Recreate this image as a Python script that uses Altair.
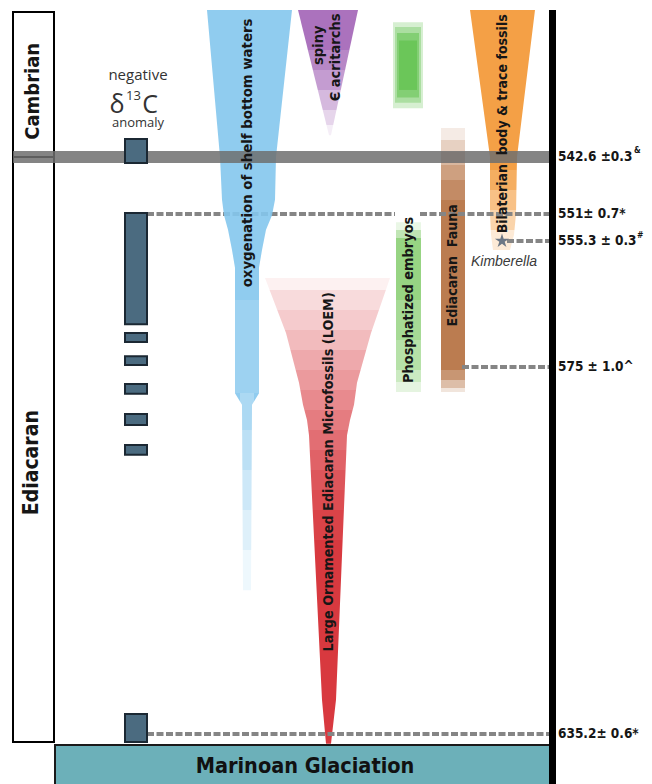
import altair as alt
import pandas as pd

# ---------------- time axis (Ma) -> depth down the column ----------------
Y_DOMAIN = [520.6, 542.6, 551.0, 555.3, 575.0, 635.2, 643.4]
Y_RANGE = [0, 149, 206, 233, 359, 726, 776]

# dated horizons on the right
dated_ma = [542.6, 551.0, 555.3, 575.0, 635.2]
dated_label = ["542.6 ±0.3", "551± 0.7*", "555.3 ± 0.3", "575 ± 1.0^", "635.2± 0.6*"]
sup_label = ["&", "#"]
sup_ma = [541.6, 554.4]
sup_x = [634, 637]

# dashed tie lines
tie_ma = [551.0, 551.0, 555.3, 575.0, 635.2]
tie_x0 = [147, 420, 507, 462, 147]
tie_x1 = [395, 549, 549, 549, 549]

# periods
period_name = ["Cambrian", "Ediacaran"]
period_top = [521.2, 542.6]
period_base = [542.6, 636.5]

# negative d13C anomalies
d13_top = [539.95, 550.85, 569.7, 573.3, 577.8, 582.7, 587.8, 631.9]
d13_base = [543.5, 568.3, 571.1, 574.7, 579.4, 584.5, 589.4, 636.5]

# ranges (Ma, left column edge, right column edge)
oxy_ma = [520.9, 542.6, 548.9, 551.2, 553.5, 556.7, 559.5, 579.3, 581.2, 611.6]
oxy_l = [207, 220, 222, 224, 228, 232, 235, 235, 242, 243]
oxy_r = [292, 276, 275, 272, 266, 262, 259, 259, 252, 251]

acr_ma = [520.9, 539.4]
acr_l = [298, 329]
acr_r = [358, 331]

loem_ma = [561.1, 569.7, 577.6, 581.2, 583.7, 586.2, 629.6, 636.8]
loem_l = [265, 286, 299, 303, 307, 309, 322, 326]
loem_r = [390, 371, 357, 354, 350, 347, 336, 331]

bil_ma = [520.9, 542.6, 551.0, 554.3, 556.7]
bil_l = [470, 490, 490, 491, 493]
bil_r = [535, 517, 516, 514, 510]

bar_x0 = [396, 441]
bar_x1 = [421, 465]
bar_top = [552.3, 538.3]
bar_base = [579.1, 579.1]
bar_color = ["#97d483", "#bb7c50"]

blob_x0 = [393, 395, 397, 399]
blob_x1 = [423, 421, 419, 417]
blob_top = [522.7, 523.4, 524.3, 525.4]
blob_base = [535.4, 534.6, 533.8, 532.7]
blob_op = [0.25, 0.35, 0.5, 0.6]

# decorative white veils that fade the ranges (x0, x1, depth0, depth1, opacity)
veil_x0 = [262] * 13 + [296] * 5 + [486] * 4 + [439] * 8 + [394] * 6
veil_x1 = [393] * 13 + [360] * 5 + [520] * 4 + [467] * 8 + [423] * 6
veil_p0 = [270, 282, 302, 322, 342, 362, 382, 402, 422, 442, 462, 482, 502,
           42, 62, 82, 102, 117,
           162, 182, 202, 222,
           120, 132, 144, 157, 172, 362, 372, 380,
           214, 222, 292, 332, 362, 374]
veil_p1 = [282, 302, 322, 342, 362, 382, 402, 422, 442, 462, 482, 502, 532,
           62, 82, 102, 117, 132,
           182, 202, 222, 244,
           132, 144, 157, 172, 192, 372, 380, 384,
           222, 230, 332, 362, 374, 384]
veil_op = [0.93, 0.82, 0.74, 0.66, 0.57, 0.49, 0.41, 0.34, 0.27, 0.21, 0.15, 0.10, 0.05,
           0.15, 0.3, 0.5, 0.7, 0.88,
           0.15, 0.35, 0.55, 0.78,
           0.85, 0.65, 0.45, 0.28, 0.12, 0.2, 0.5, 0.8,
           0.8, 0.4, 0.15, 0.3, 0.5, 0.75]

oxy_veil_x0 = [233, 240, 240, 240, 240, 240]
oxy_veil_x1 = [261, 254, 254, 254, 254, 254]
oxy_veil_p0 = [292, 385, 422, 462, 502, 542]
oxy_veil_p1 = [385, 422, 462, 502, 542, 585]
oxy_veil_op = [0.12, 0.25, 0.4, 0.55, 0.7, 0.85]

# rotated labels
rot_text = ["oxygenation of shelf bottom waters", "spiny", "Є acritarchs",
            "Phosphatized embryos", "Large Ornamented Ediacaran Microfossils (LOEM)",
            "Ediacaran\u00a0 Fauna", "Bilaterian\u00a0 body & trace fossils",
            "Cambrian", "Ediacaran"]
rot_x = [248, 319, 336, 409, 329, 453, 503, 33, 32]
rot_ma = [542.0, 526.1, 527.9, 564.5, 592.2, 559.1, 537.7, 532.9, 590.7]
rot_size = [14.8, 14.5, 14.5, 14.4, 14.3, 14.1, 14, 20, 21]

star_x = [502]
star_ma = [555.3]
STAR = ("M0,-1L0.2233,-0.3074L0.9511,-0.309L0.3614,0.1174L0.5878,0.809L0,0.38"
        "L-0.5878,0.809L-0.3614,0.1174L-0.9511,-0.309L-0.2233,-0.3074Z")

FONT = "Liberation Sans Narrow, Arial Narrow, DejaVu Sans Condensed, sans-serif"
XS = alt.Scale(domain=[8, 644], nice=False, zero=False)
YS = alt.Scale(domain=[0, 776], reverse=True, nice=False, zero=False)


def age_expr(f):
    d, r = Y_DOMAIN, Y_RANGE
    segs = []
    for i in range(len(d) - 1):
        k = (r[i + 1] - r[i]) / (d[i + 1] - d[i])
        segs.append((d[i + 1], f"({r[i]} + (datum['{f}'] - {d[i]}) * {k:.6f})"))
    e = segs[-1][1]
    for bound, s in reversed(segs[:-1]):
        e = f"(datum['{f}'] <= {bound} ? {s} : {e})"
    return e


def aged(chart, *fields):
    return chart.transform_calculate(**{"p_" + f: age_expr(f) for f in fields})


def X(f):
    return alt.X(f, type="quantitative", scale=XS, axis=None)


def Y(f):
    return alt.Y(f, type="quantitative", scale=YS, axis=None)


def shape(ma, l, r, color, opacity=1.0):
    df = pd.DataFrame({"ma": ma, "l": l, "r": r})
    return aged(alt.Chart(df).mark_area(orient="horizontal", fill=color, opacity=opacity).encode(
        y=Y("p_ma"), x=X("l"), x2=alt.X2("r")), "ma")


def boxes(df, **kw):
    return aged(alt.Chart(df).mark_rect(**kw).encode(
        x=X("x0"), x2=alt.X2("x1"), y=Y("p_top"), y2=alt.Y2("p_base")), "top", "base")


def texts(df, **kw):
    enc = dict(x=X("x"), y=Y("p_ma"), text="t:N")
    if "s" in df.columns:
        enc["size"] = alt.Size("s:Q", scale=None, legend=None)
    return aged(alt.Chart(df).mark_text(**kw).encode(**enc), "ma")


periods = pd.DataFrame({"name": period_name, "top": period_top, "base": period_base,
                        "x0": [13, 13], "x1": [54, 54]})
period_boxes = boxes(periods, fill="white", stroke="black", strokeWidth=2)

mar_box = boxes(pd.DataFrame({"x0": [55], "x1": [551], "top": [637.0], "base": [646.0]}),
                fill="#6cb0b9", stroke="#1a1a1a", strokeWidth=2)
mar_text = texts(pd.DataFrame({"x": [305], "ma": [640.6], "t": ["Marinoan Glaciation"]}),
                 font=FONT, fontSize=21.5, fontWeight="bold", fill="#111111", baseline="middle", align="center")

ties = aged(alt.Chart(pd.DataFrame({"ma": tie_ma, "x0": tie_x0, "x1": tie_x1})).mark_rule(
    stroke="#858585", strokeWidth=4, strokeDash=[7, 2.5]).encode(
    x=X("x0"), x2=alt.X2("x1"), y=Y("p_ma")), "ma")

oxy = shape(oxy_ma, oxy_l, oxy_r, "#84c7ed", opacity=0.9)
acr = shape(acr_ma, acr_l, acr_r, "#ab72bd")
loem = shape(loem_ma, loem_l, loem_r, "#d8393f")
bil = shape(bil_ma, bil_l, bil_r, "#f4a046")

bars = aged(alt.Chart(pd.DataFrame({"x0": bar_x0, "x1": bar_x1, "top": bar_top, "base": bar_base,
                                    "c": bar_color})).mark_rect().encode(
    x=X("x0"), x2=alt.X2("x1"), y=Y("p_top"), y2=alt.Y2("p_base"), fill=alt.Fill("c:N", scale=None)),
    "top", "base")

blob = aged(alt.Chart(pd.DataFrame({"x0": blob_x0, "x1": blob_x1, "top": blob_top, "base": blob_base,
                                    "op": blob_op})).mark_rect(fill="#5cbf48").encode(
    x=X("x0"), x2=alt.X2("x1"), y=Y("p_top"), y2=alt.Y2("p_base"),
    opacity=alt.Opacity("op:Q", scale=None)), "top", "base")


def veils(x0, x1, p0, p1, op):
    return alt.Chart(pd.DataFrame({"x0": x0, "x1": x1, "p0": p0, "p1": p1, "op": op})).mark_rect(
        fill="white").encode(x=X("x0"), x2=alt.X2("x1"), y=Y("p0"), y2=alt.Y2("p1"),
                             opacity=alt.Opacity("op:Q", scale=None))


fades = veils(veil_x0, veil_x1, veil_p0, veil_p1, veil_op)
oxy_fades = veils(oxy_veil_x0, oxy_veil_x1, oxy_veil_p0, oxy_veil_p1, oxy_veil_op)

gray_bar = aged(alt.Chart(pd.DataFrame({"ma": [542.6], "x0": [13], "x1": [549]})).mark_rule(
    stroke="#6e6e6e", strokeWidth=12, opacity=0.85).encode(x=X("x0"), x2=alt.X2("x1"), y=Y("p_ma")), "ma")

d13 = boxes(pd.DataFrame({"top": d13_top, "base": d13_base, "x0": 125, "x1": 147}),
            fill="#4b6b80", stroke="#1b2833", strokeWidth=2)

black_bar = aged(alt.Chart(pd.DataFrame({"x": [552.5], "top": [520.9], "base": [646.0]})).mark_rule(
    stroke="black", strokeWidth=7).encode(x=X("x"), y=Y("p_top"), y2=alt.Y2("p_base")), "top", "base")

star = aged(alt.Chart(pd.DataFrame({"x": star_x, "ma": star_ma})).mark_point(
    shape=STAR, filled=True, size=220, fill="#6c7785", strokeWidth=0, opacity=1).encode(
    x=X("x"), y=Y("p_ma")), "ma")

kim = texts(pd.DataFrame({"x": [504], "ma": [558.6], "t": ["Kimberella"]}),
            font="Liberation Sans, Arial, sans-serif", fontStyle="italic", fontSize=14, fill="#3a3a3a")

rot = texts(pd.DataFrame({"t": rot_text, "x": rot_x, "ma": rot_ma, "s": rot_size}),
            font=FONT, fontWeight="bold", angle=270, align="center", baseline="middle", fill="#161616")

dated = texts(pd.DataFrame({"t": dated_label, "ma": dated_ma, "x": 558}),
              font=FONT, fontWeight="bold", fontSize=13.5, align="left", baseline="middle", fill="#161616")
sup = texts(pd.DataFrame({"t": sup_label, "ma": sup_ma, "x": sup_x}),
            font=FONT, fontWeight="bold", fontSize=8.5, align="left", baseline="middle", fill="#161616")

head_text = texts(pd.DataFrame({"t": ["negative", "δ", "13", "C", "anomaly"],
                                "x": [138, 117, 133.5, 150, 138],
                                "ma": [531.3, 536.1, 534.2, 536.1, 538.1],
                                "s": [15, 25, 13, 25, 13]}),
                  font="Open Sans, Noto Sans, sans-serif", fill="#333333", align="center", baseline="alphabetic")

chart = alt.layer(
    period_boxes, mar_box, bars, bil, blob, acr, loem, fades, ties, oxy, oxy_fades,
    gray_bar, d13, black_bar, kim, rot, dated, sup, head_text, mar_text, star
).properties(width=636, height=776, padding=0, autosize="none", background="white").configure_view(stroke=None)

chart.save("out.html", embed_options={"renderer": "svg", "actions": False})
